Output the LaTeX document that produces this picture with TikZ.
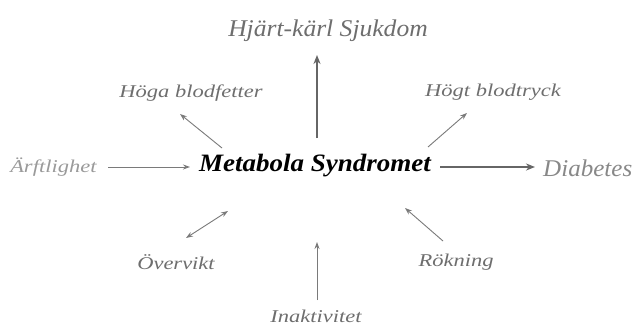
\documentclass[tikz,border=0pt]{standalone}
\usepackage{fontspec}
\setmainfont{Liberation Serif}
\usetikzlibrary{arrows.meta}
\definecolor{txtgray}{HTML}{6E6E6E}
\definecolor{lightgray}{HTML}{9A9A9A}
\definecolor{midgray}{HTML}{888888}
\definecolor{arrgray}{HTML}{7A7A7A}
\definecolor{darkarr}{HTML}{666666}
\begin{document}
\begin{tikzpicture}[x=1pt,y=-1pt,
  lbl/.style={font=\itshape\fontsize{18}{18}\selectfont, text=txtgray, inner sep=0pt, xscale=1.25, transform shape},
  big/.style={font=\itshape\fontsize{24}{24}\selectfont, inner sep=0pt, xscale=1.065, transform shape},
  thin/.style={draw=arrgray, line width=0.9pt, -{Stealth[length=7pt,width=5pt]}},
  thick/.style={draw=darkarr, line width=2pt, -{Stealth[length=9pt,width=7pt]}}]
\useasboundingbox (0,0) rectangle (640,327);
\fill[white] (0,0) rectangle (640,327);
\node[big, text=txtgray] (hk) at (328,31) {Hjärt-kärl Sjukdom};
\node[big, font=\bfseries\itshape\fontsize{25}{25}\selectfont, xscale=1.015, text=black] (ms) at (315,166) {Metabola Syndromet};
\node[big, text=midgray, anchor=west, xscale=0.98] (db) at (543,168) {Diabetes};
\node[lbl] (hb) at (191,93) {Höga blodfetter};
\node[lbl] (ht) at (493,92) {Högt blodtryck};
\node[lbl, text=lightgray, anchor=west] (af) at (10,167) {Ärftlighet};
\node[lbl] (ov) at (176,262) {Övervikt};
\node[lbl] (rk) at (456,262) {Rökning};
\node[lbl] (in) at (316,316) {Inaktivitet};
\coordinate (c1) at (317,138); \coordinate (c1e) at (317,55);
\draw[thick] (c1) -- (c1e);
\coordinate (d0) at (440,167); \coordinate (d1) at (535,167);
\draw[thick] (d0) -- (d1);
\coordinate (f0) at (108,167); \coordinate (f1) at (190,167);
\draw[thin] (f0) -- (f1);
\coordinate (a1) at (222,148); \coordinate (a1e) at (180,114);
\draw[thin] (a1) -- (a1e);
\coordinate (a2) at (428,147); \coordinate (a2e) at (467,113);
\draw[thin] (a2) -- (a2e);
\coordinate (a3) at (186,238); \coordinate (a3e) at (228,211);
\draw[thin, {Stealth[length=7pt,width=5pt]}-{Stealth[length=7pt,width=5pt]}] (a3) -- (a3e);
\coordinate (a4) at (317,300); \coordinate (a4e) at (317,242);
\draw[thin] (a4) -- (a4e);
\coordinate (a5) at (443,241); \coordinate (a5e) at (405,208);
\draw[thin] (a5) -- (a5e);
\end{tikzpicture}
\end{document}
